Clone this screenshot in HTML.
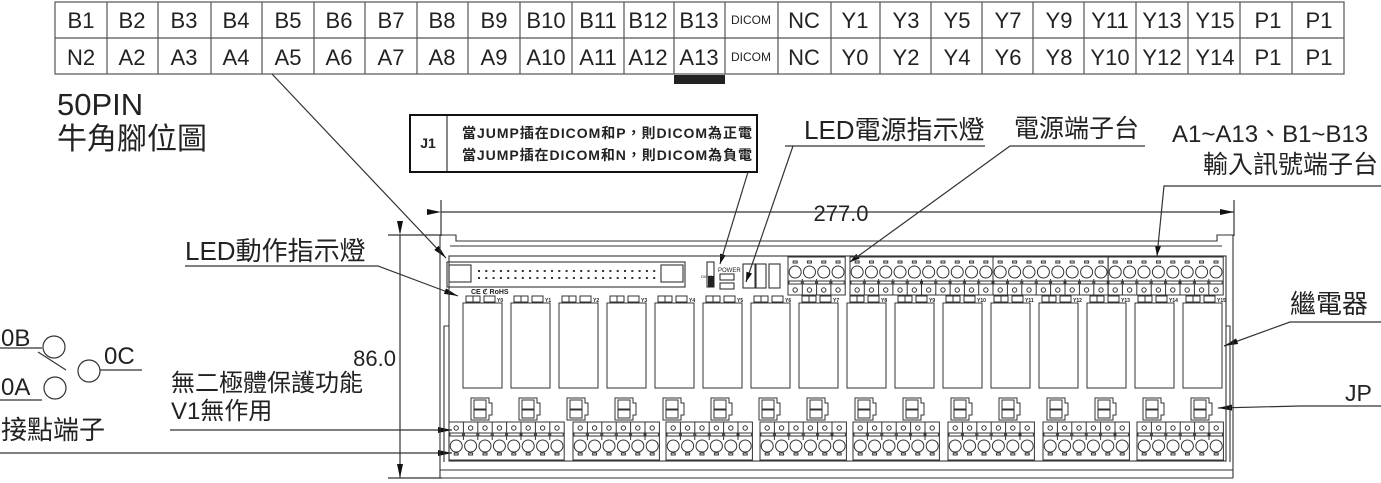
<!DOCTYPE html>
<html><head><meta charset="utf-8"><style>
html,body{margin:0;padding:0;background:#fff;}
svg{display:block;}
text{font-family:"Liberation Sans","Noto Sans CJK TC",sans-serif;fill:#222;}
</style></head><body>
<svg id="s" width="1381" height="483" viewBox="0 0 1381 483" xmlns="http://www.w3.org/2000/svg">
<defs>
<marker id="ar" markerWidth="10" markerHeight="6" refX="10" refY="3" orient="auto" markerUnits="userSpaceOnUse"><path d="M0,0 L10,3 L0,6 z" fill="#111"/></marker>
<marker id="arL" markerWidth="14" markerHeight="6" refX="14" refY="3" orient="auto" markerUnits="userSpaceOnUse"><path d="M0,0 L14,3 L0,6 z" fill="#111"/></marker>
</defs>
<g stroke="#555" stroke-width="1.2" fill="none">
<rect x="55" y="2" width="1289" height="72"/>
<line x1="55" y1="38" x2="1344" y2="38"/>
</g>
<g id="cols" stroke="#555" stroke-width="1.2"></g>
<rect x="674" y="75" width="51" height="9" fill="#222"/>
<g font-size="22" text-anchor="middle">
<text x="81" y="28">B1</text><text x="132" y="28">B2</text><text x="184" y="28">B3</text><text x="236" y="28">B4</text><text x="288" y="28">B5</text><text x="339" y="28">B6</text><text x="391" y="28">B7</text><text x="442" y="28">B8</text><text x="494" y="28">B9</text><text x="546" y="28">B10</text><text x="598" y="28">B11</text><text x="648" y="28">B12</text><text x="699" y="28">B13</text><text x="751" y="24" font-size="12">DICOM</text><text x="804" y="28">NC</text><text x="855" y="28">Y1</text><text x="906" y="28">Y3</text><text x="957" y="28">Y5</text><text x="1008" y="28">Y7</text><text x="1059" y="28">Y9</text><text x="1110" y="28">Y11</text><text x="1162" y="28">Y13</text><text x="1215" y="28">Y15</text><text x="1268" y="28">P1</text><text x="1319" y="28">P1</text>
<text x="81" y="65">N2</text><text x="132" y="65">A2</text><text x="184" y="65">A3</text><text x="236" y="65">A4</text><text x="288" y="65">A5</text><text x="339" y="65">A6</text><text x="391" y="65">A7</text><text x="442" y="65">A8</text><text x="494" y="65">A9</text><text x="546" y="65">A10</text><text x="598" y="65">A11</text><text x="648" y="65">A12</text><text x="699" y="65">A13</text><text x="751" y="61" font-size="12">DICOM</text><text x="804" y="65">NC</text><text x="855" y="65">Y0</text><text x="906" y="65">Y2</text><text x="957" y="65">Y4</text><text x="1008" y="65">Y6</text><text x="1059" y="65">Y8</text><text x="1110" y="65">Y10</text><text x="1162" y="65">Y12</text><text x="1215" y="65">Y14</text><text x="1268" y="65">P1</text><text x="1319" y="65">P1</text>
</g>
<text x="57" y="115" font-size="31">50PIN</text>
<text x="57" y="149" font-size="30">牛角腳位圖</text>
<rect x="410" y="115" width="347" height="57" fill="none" stroke="#111" stroke-width="2"/>
<line x1="447" y1="115" x2="447" y2="172" stroke="#111" stroke-width="1"/>
<text x="428" y="148" font-size="14" font-weight="bold" text-anchor="middle">J1</text>
<text x="462" y="138" font-size="14" font-weight="bold" textLength="290">當JUMP插在DICOM和P，則DICOM為正電</text>
<text x="462" y="160" font-size="14" font-weight="bold" textLength="290">當JUMP插在DICOM和N，則DICOM為負電</text>
<text x="804" y="139" font-size="26">LED電源指示燈</text>
<text x="1014" y="137" font-size="25">電源端子台</text>
<text x="1172" y="142" font-size="24">A1~A13、B1~B13</text>
<text x="1203" y="173" font-size="25">輸入訊號端子台</text>
<text x="185" y="260" font-size="26">LED動作指示燈</text>
<text x="1290" y="313" font-size="26">繼電器</text>
<text x="1345" y="401" font-size="23">JP</text>
<text x="171" y="391" font-size="24">無二極體保護功能</text>
<text x="171" y="419" font-size="24">V1無作用</text>
<text x="1" y="346" font-size="24">0B</text>
<text x="104" y="364" font-size="24">0C</text>
<text x="1" y="395" font-size="24">0A</text>
<text x="1" y="439" font-size="26">接點端子</text>
<text x="841" y="221" font-size="22" text-anchor="middle" style="paint-order:stroke" stroke="#fff" stroke-width="8">277.0</text>
<text x="396" y="366" font-size="22" text-anchor="end">86.0</text>
<g stroke="#333" stroke-width="1.2" fill="none">
<polyline points="785,146 985,146"/>
<line x1="793" y1="146" x2="746" y2="282" marker-end="url(#ar)"/>
<line x1="748" y1="172" x2="720" y2="264" marker-end="url(#ar)"/>
<polyline points="1145,146 1010,146 850,262" marker-end="url(#ar)"/>
<polyline points="1381,186 1164,186 1157,256" marker-end="url(#ar)"/>
<polyline points="185,266 378,266 458,296" marker-end="url(#arL)"/>
<line x1="272" y1="74" x2="446" y2="258" marker-end="url(#arL)"/>
<polyline points="1381,322 1290,322 1224,346" marker-end="url(#arL)"/>
<polyline points="1381,406 1300,406 1218,408" marker-end="url(#arL)"/>
<line x1="170" y1="430" x2="452" y2="430" marker-end="url(#arL)"/>
<line x1="0" y1="453" x2="452" y2="453" marker-end="url(#arL)"/>
<line x1="441" y1="212" x2="1234" y2="212" marker-start="url(#arL)" marker-end="url(#arL)"/>
<line x1="441" y1="200" x2="441" y2="236"/>
<line x1="1234" y1="200" x2="1234" y2="236"/>
<line x1="400" y1="235" x2="400" y2="478" marker-start="url(#arL)" marker-end="url(#arL)"/>
<line x1="388" y1="235" x2="442" y2="235"/>
<line x1="388" y1="478" x2="442" y2="478"/>
<line x1="0" y1="348" x2="42" y2="348"/>
<circle cx="54" cy="347" r="11"/>
<line x1="38" y1="352" x2="66" y2="370"/>
<circle cx="89" cy="371" r="11"/>
<line x1="100" y1="370" x2="142" y2="370"/>
<line x1="0" y1="400" x2="42" y2="400"/>
<circle cx="55" cy="388" r="11"/>
</g>
<g stroke="#333" stroke-width="1.1" fill="none">
<path d="M440,478 V235 H456 V241 H1217 V235 H1233 V478"/>
<line x1="450" y1="246" x2="1222" y2="246"/>
<rect x="449" y="256" width="777" height="205"/>
<line x1="440" y1="470" x2="1233" y2="470"/>
<line x1="440" y1="478" x2="1233" y2="478"/>
<path d="M449,326 H444 V462"/>
<path d="M1226,326 H1230 V462"/>
<rect x="447" y="262" width="238" height="25"/>
<rect x="449" y="265" width="22" height="17"/>
<rect x="661" y="265" width="22" height="17"/>
<rect x="707" y="262" width="7" height="25"/>
<rect x="720" y="274" width="14" height="6"/>
<rect x="720" y="283" width="14" height="6"/>
<rect x="743" y="264" width="12" height="24"/>
<rect x="756" y="264" width="10" height="24"/>
<rect x="769" y="264" width="11" height="24"/>
</g>
<rect x="708" y="276" width="6" height="11" fill="#222"/>
<g id="dyn"></g>
<text x="471" y="294" font-size="7" font-weight="bold">CE ℭ RoHS</text>
<text x="718" y="272" font-size="6">POWER</text>
<text x="701" y="278" font-size="4">DICOM</text>
<g font-size="5" font-weight="bold">
<text x="497" y="302">Y0</text><text x="545" y="302">Y1</text><text x="593" y="302">Y2</text><text x="641" y="302">Y3</text><text x="689" y="302">Y4</text><text x="737" y="302">Y5</text><text x="785" y="302">Y6</text><text x="833" y="302">Y7</text><text x="881" y="302">Y8</text><text x="929" y="302">Y9</text><text x="977" y="302">Y10</text><text x="1025" y="302">Y11</text><text x="1073" y="302">Y12</text><text x="1121" y="302">Y13</text><text x="1169" y="302">Y14</text><text x="1217" y="302">Y15</text>
</g>
</svg>
<script>
var NS="http://www.w3.org/2000/svg";
function el(p,t,a){var e=document.createElementNS(NS,t);for(var k in a)e.setAttribute(k,a[k]);p.appendChild(e);return e;}
var cols=document.getElementById('cols');
[107,158,211,262,314,365,417,468,520,572,624,674,725,778,831,880,931,982,1033,1084,1136,1188,1240,1292].forEach(function(x){el(cols,'line',{x1:x,y1:2,x2:x,y2:74});});
var g=el(document.getElementById('dyn'),'g',{stroke:'#333','stroke-width':1,fill:'none'});
var i,j;
for(i=0;i<25;i++){el(g,'rect',{x:478+i*7.3,y:270,width:2,height:2,fill:'#333',stroke:'none'});el(g,'rect',{x:478+i*7.3,y:277,width:2,height:2,fill:'#333',stroke:'none'});}
for(i=0;i<16;i++){var x=463+48*i;
 el(g,'rect',{x:x,y:303,width:39,height:85});
 el(g,'rect',{x:x+3,y:296,width:14,height:6});el(g,'line',{x1:x+10,y1:296,x2:x+10,y2:302});
 el(g,'rect',{x:x+21,y:296,width:11,height:6});
 var jx=x+8;
 el(g,'path',{d:'M'+jx+',398 h18 v5 h3 v12 h-3 v5 h-18 z'});
 el(g,'rect',{x:jx+3,y:400,width:12,height:9});el(g,'rect',{x:jx+3,y:410,width:12,height:8});
}
function termRow(x0,n,pitch,topY,flip){
 el(g,'rect',{x:x0,y:topY,width:n*pitch,height:38});
 for(j=0;j<n;j++){var cx=x0+pitch*(j+0.5);
  if(!flip){el(g,'circle',{cx:cx,cy:topY+6,r:2.2});el(g,'rect',{x:x0+pitch*j+1,y:topY+11,width:pitch-2,height:3});el(g,'circle',{cx:cx,cy:topY+24,r:6});el(g,'rect',{x:cx-2,y:topY+31,width:4,height:2});el(g,'line',{x1:x0+pitch*j,y1:topY,x2:x0+pitch*j,y2:topY+18});}
  else{el(g,'circle',{cx:cx,cy:topY+15,r:6});el(g,'rect',{x:x0+pitch*j+1,y:topY+24,width:pitch-2,height:3});el(g,'circle',{cx:cx,cy:topY+33,r:2.2});el(g,'rect',{x:cx-2,y:topY+4,width:4,height:2});el(g,'line',{x1:x0+pitch*j,y1:topY+22,x2:x0+pitch*j,y2:topY+38});}
 }}
termRow(449,8,14.4,422,false);
[573,666,760,853,948,1043,1137].forEach(function(x){termRow(x,6,14.4,422,false);});
termRow(788,4,14.3,257,true);
termRow(850,10,14.3,257,true);termRow(993,8,14.4,257,true);termRow(1108,8,14.4,257,true);
</script>
</body></html>
